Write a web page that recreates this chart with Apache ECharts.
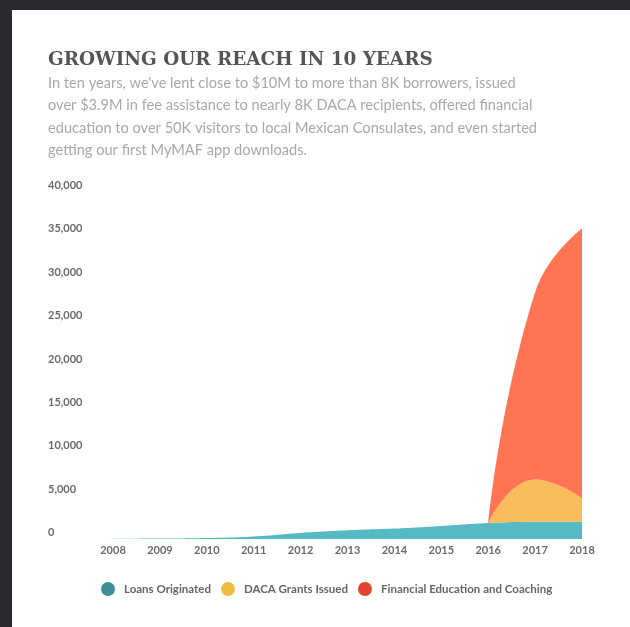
<!DOCTYPE html>
<html>
<head>
<meta charset="utf-8">
<script src="https://cdn.jsdelivr.net/npm/echarts@6/dist/echarts.min.js"></script>
<style>
  html, body { margin: 0; padding: 0; background: #2b2b2f; width: 630px; height: 627px; overflow: hidden; }
  #chart { position: absolute; left: 12px; top: 10px; width: 618px; height: 617px; background: #ffffff; }
</style>
</head>
<body>
<div id="chart"></div>
<script>
// Years on the x axis
const years = ['2008', '2009', '2010', '2011', '2012', '2013', '2014', '2015', '2016', '2017', '2018'];

// Yearly counts per program (null = program not running yet)
const loansOriginated = [30, 60, 120, 300, 700, 1000, 1200, 1500, 1850, 2000, 2000];
const dacaGrants      = [null, null, null, null, null, null, null, null, 0, 4850, 2700];
const finEducation    = [null, null, null, null, null, null, null, null, 0, 21600, 31100];

const seriesNames = ['Loans Originated', 'DACA Grants Issued', 'Financial Education and Coaching'];

const titleText = 'GROWING OUR REACH IN 10 YEARS';
const subtitleLines = [
  "In ten years, we've lent close to $10M to more than 8K borrowers, issued",
  'over $3.9M in fee assistance to nearly 8K DACA recipients, offered financial',
  'education to over 50K visitors to local Mexican Consulates, and even started',
  'getting our first MyMAF app downloads.'
];

const chart = echarts.init(document.getElementById('chart'));

function areaSeries(name, data, lineColor, fillColor) {
  return {
    name: name,
    type: 'line',
    stack: 'total',
    smooth: 0.5,
    showSymbol: false,
    data: data,
    itemStyle: { color: lineColor },
    lineStyle: { width: 0 },
    areaStyle: { color: fillColor, opacity: 1 },
    emphasis: { disabled: true }
  };
}

chart.setOption({
  animation: false,
  backgroundColor: '#ffffff',
  title: {
    text: titleText,
    subtext: subtitleLines.join('\n'),
    left: 31,
    top: 36,
    itemGap: 3,
    textStyle: {
      fontFamily: 'DejaVu Serif',
      fontSize: 18.4,
      fontWeight: 'bold',
      color: '#555555'
    },
    subtextStyle: {
      fontFamily: 'Lato',
      fontSize: 14.6,
      color: '#a8a8a8',
      lineHeight: 22.5
    }
  },
  legend: {
    bottom: 26,
    left: 84,
    icon: 'circle',
    itemWidth: 14,
    itemHeight: 14,
    itemGap: 10,
    textStyle: { fontFamily: 'Lato', fontSize: 11.5, fontWeight: 'bold', color: '#666666', padding: [0, 0, 0, 4] },
    data: seriesNames
  },
  grid: { left: 101, right: 48, top: 182, bottom: 88, containLabel: false },
  xAxis: {
    type: 'category',
    data: years,
    boundaryGap: false,
    axisLine: { show: false },
    axisTick: { show: false },
    axisLabel: { margin: 6, fontFamily: 'Lato', fontSize: 11, fontWeight: 'bold', color: '#6a6a6a' }
  },
  yAxis: {
    type: 'value',
    min: 0,
    max: 40000,
    interval: 5000,
    splitLine: { show: false },
    axisLine: { show: false },
    axisTick: { show: false },
    axisLabel: {
      align: 'left',
      verticalAlign: 'bottom',
      margin: 65,
      padding: [0, 0, 1, 0],
      fontFamily: 'Lato',
      fontSize: 11,
      fontWeight: 'bold',
      color: '#6a6a6a',
      formatter: v => v.toLocaleString('en-US')
    }
  },
  series: [
    areaSeries(seriesNames[0], loansOriginated, '#3f9199', '#56bac4'),
    areaSeries(seriesNames[1], dacaGrants, '#efbd40', '#fbbd5b'),
    areaSeries(seriesNames[2], finEducation, '#e2442f', '#ff7452')
  ]
});
</script>
</body>
</html>
